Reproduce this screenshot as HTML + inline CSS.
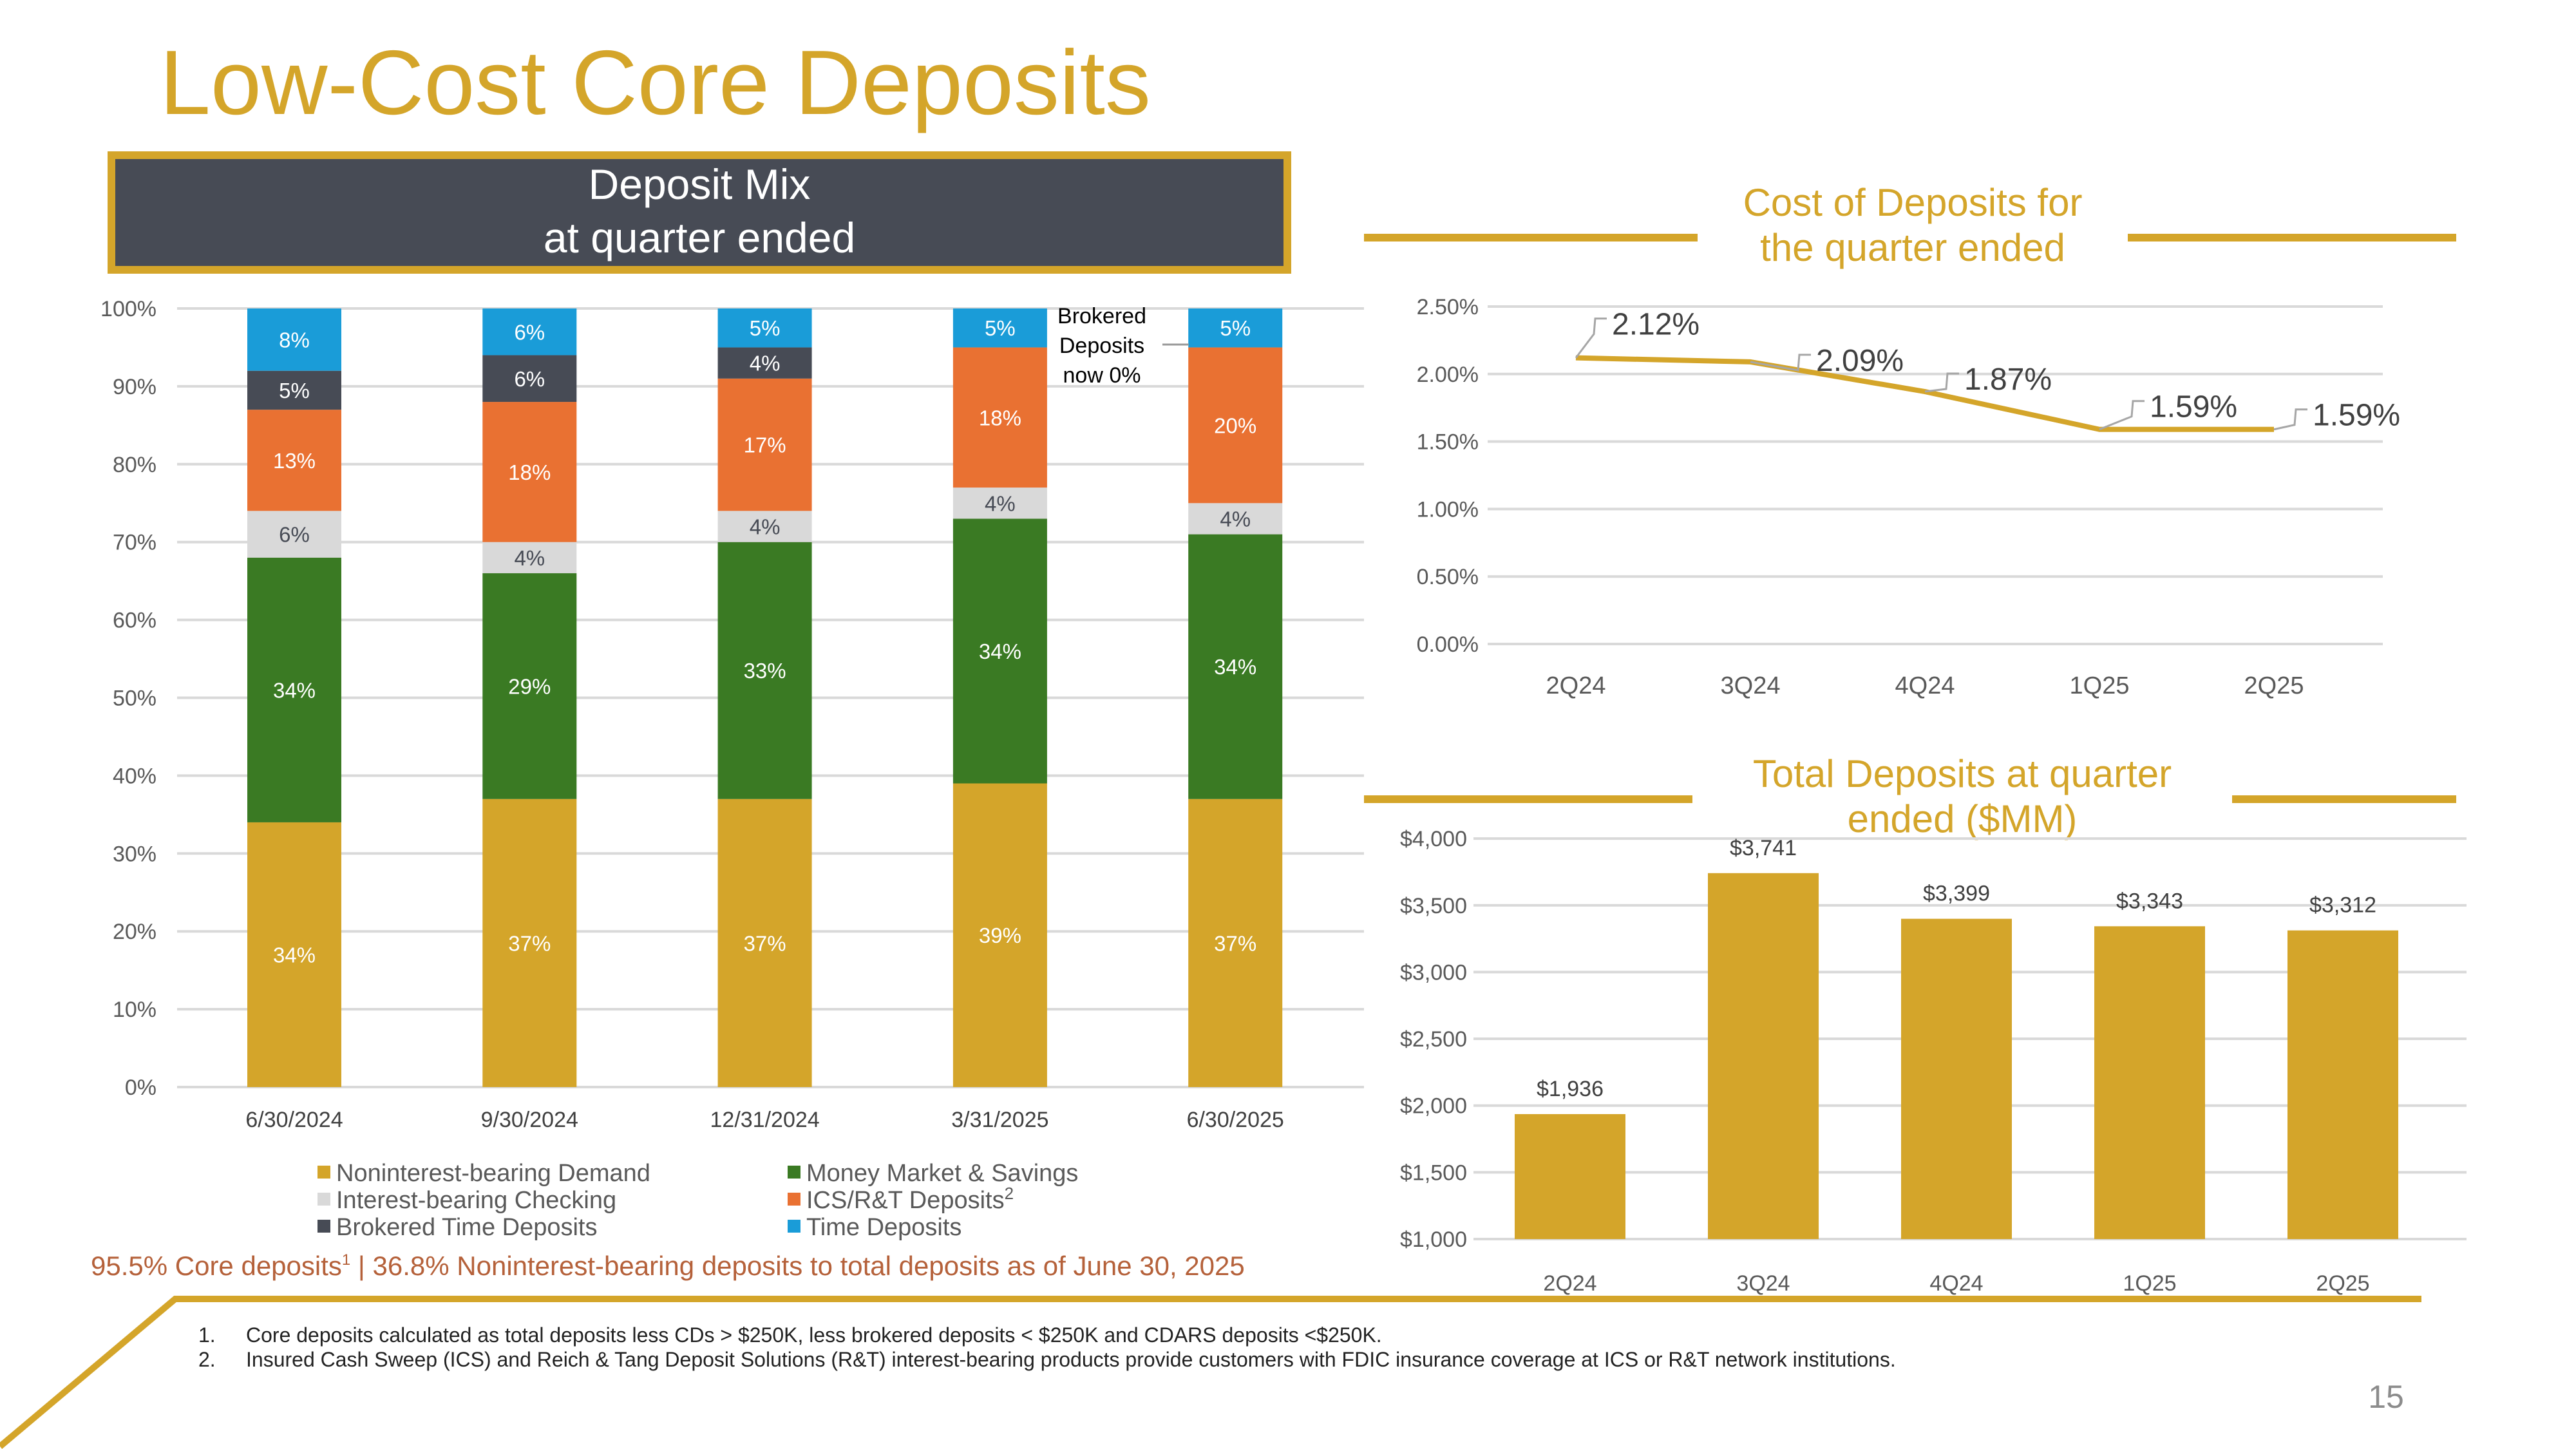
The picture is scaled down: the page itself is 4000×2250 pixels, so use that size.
<!DOCTYPE html>
<html><head><meta charset="utf-8"><style>
html,body{margin:0;padding:0;background:#fff}
svg{display:block}
text{font-family:"Liberation Sans",sans-serif}
</style></head><body>
<svg id="s" width="4000" height="2250" viewBox="0 0 4000 2250" xmlns="http://www.w3.org/2000/svg">
<text x="248" y="177" font-size="142" fill="#D4A52A">Low-Cost Core Deposits</text>
<rect x="173" y="241" width="1826" height="178" fill="#474B55" stroke="#D4A52A" stroke-width="12"/>
<text x="1086" y="309" font-size="66" fill="#fff" text-anchor="middle">Deposit Mix</text>
<text x="1086" y="392" font-size="66" fill="#fff" text-anchor="middle">at quarter ended</text>
<g id="mix"></g>
<text x="1711" y="502" font-size="34" fill="#000" text-anchor="middle">Brokered</text>
<text x="1711" y="548" font-size="34" fill="#000" text-anchor="middle">Deposits</text>
<text x="1711" y="594" font-size="34" fill="#000" text-anchor="middle">now 0%</text>
<line x1="1805" y1="535" x2="1846" y2="535" stroke="#999" stroke-width="3"/>
<g id="legend" font-size="38" fill="#595959"></g>
<text x="141" y="1980" font-size="42" fill="#B5613A">95.5% Core deposits<tspan font-size="24" dy="-16">1</tspan><tspan dy="16"> | 36.8% Noninterest-bearing deposits to total deposits as of June 30, 2025</tspan></text>
<polyline points="0,2246 272,2017 3760,2017" fill="none" stroke="#D4A52A" stroke-width="10"/>
<text x="308" y="2084" font-size="32" fill="#222">1.</text>
<text x="382" y="2084" font-size="32" fill="#222">Core deposits calculated as total deposits less CDs &gt; $250K, less brokered deposits &lt; $250K and CDARS deposits &lt;$250K.</text>
<text x="308" y="2122" font-size="32" fill="#222">2.</text>
<text x="382" y="2122" font-size="32" fill="#222">Insured Cash Sweep (ICS) and Reich &amp; Tang Deposit Solutions (R&amp;T) interest-bearing products provide customers with FDIC insurance coverage at ICS or R&amp;T network institutions.</text>
<text x="3705" y="2186" font-size="50" fill="#8C8C8C" text-anchor="middle">15</text>

<line x1="2118" y1="369" x2="2636" y2="369" stroke="#D4A52A" stroke-width="12"/>
<line x1="3304" y1="369" x2="3814" y2="369" stroke="#D4A52A" stroke-width="12"/>
<text x="2970" y="335" font-size="60" fill="#D4A52A" text-anchor="middle">Cost of Deposits for</text>
<text x="2970" y="405" font-size="60" fill="#D4A52A" text-anchor="middle">the quarter ended</text>
<g id="cost"></g>

<line x1="2118" y1="1241" x2="2628" y2="1241" stroke="#D4A52A" stroke-width="12"/>
<line x1="3466" y1="1241" x2="3814" y2="1241" stroke="#D4A52A" stroke-width="12"/>
<text x="3047" y="1222" font-size="60" fill="#D4A52A" text-anchor="middle">Total Deposits at quarter</text>
<text x="3047" y="1292" font-size="60" fill="#D4A52A" text-anchor="middle">ended ($MM)</text>
<g id="tot"></g>
</svg>
<script>
// ---- Deposit mix data ----
const mixCategories = ["6/30/2024","9/30/2024","12/31/2024","3/31/2025","6/30/2025"];
const mixSeriesNames = ["Noninterest-bearing Demand","Money Market & Savings","Interest-bearing Checking","ICS/R&T Deposits","Brokered Time Deposits","Time Deposits"];
const nibDemand = [34,37,37,39,37];
const moneyMarket = [34,29,33,34,34];
const ibChecking = [6,4,4,4,4];
const icsRT = [13,18,17,18,20];
const brokered = [5,6,4,0,0];
const timeDep = [8,6,5,5,5];
const mixTicks = [0,10,20,30,40,50,60,70,80,90,100];
// ---- Cost of deposits ----
const costCategories = ["2Q24","3Q24","4Q24","1Q25","2Q25"];
const costValues = [2.12,2.09,1.87,1.59,1.59];
const costTicks = [0,0.5,1.0,1.5,2.0,2.5];
// ---- Total deposits ----
const totCategories = ["2Q24","3Q24","4Q24","1Q25","2Q25"];
const totValues = [1936,3741,3399,3343,3312];
const totTicks = [1000,1500,2000,2500,3000,3500,4000];

const NS="http://www.w3.org/2000/svg";
function mk(tag,attrs,parent,txt){const e=document.createElementNS(NS,tag);for(const k in attrs)e.setAttribute(k,attrs[k]);if(txt!==undefined)e.textContent=txt;parent.appendChild(e);return e;}

// Mix chart
const mix=document.getElementById('mix');
const my=v=>1688-v*12.09;
const mx=i=>457+i*365.3;
mixTicks.forEach(t=>{
  const l=mk('line',{x1:275,x2:2118,y1:my(t),y2:my(t),stroke:'#D9D9D9','stroke-width':4},mix);
  
  
  const tx=mk('text',{x:243,y:my(t)+12,'font-size':34,fill:'#595959','text-anchor':'end'},mix,t+'%');
  
  
});
const series=[nibDemand,moneyMarket,ibChecking,icsRT,brokered,timeDep];
const colors=['#D4A52A','#3A7A23','#D9D9D9','#E97132','#474B55','#1A9CD8'];
const lblColors=['#fff','#fff','#474B55','#fff','#fff','#fff'];
mixCategories.forEach((c,i)=>{
  let base=0;
  series.forEach((s,k)=>{
    const v=s[i]; if(v<=0) return;
    const r=mk('rect',{x:mx(i)-73,width:146,y:my(base+v),height:v*12.09,fill:colors[k]},mix);
    
    
    const t=mk('text',{x:mx(i),y:my(base+v/2)+12,'font-size':33,fill:lblColors[k],'text-anchor':'middle'},mix,v+'%');
    
    
    base+=v;
  });
  const xl=mk('text',{x:mx(i),y:1750,'font-size':34,fill:'#404040','text-anchor':'middle'},mix,c);
  
  
});
// legend
const lg=document.getElementById('legend');
const lpos=[[493,1834],[1223,1834],[493,1876],[1223,1876],[493,1918],[1223,1918]];
[0,1,2,3,4,5].forEach((k,j)=>{
  const [x,y]=lpos[j];
  const r=mk('rect',{x:x,y:y-24,width:20,height:20,fill:colors[k]},lg);
  
  
  const t=mk('text',{x:x+29,y:y},lg,mixSeriesNames[k]);
  
  
  if(k===3){mk('tspan',{'font-size':26,dy:-14},t,'2');}
});

// Cost chart
const cost=document.getElementById('cost');
const cy=v=>1000-v*209.6;
const cx=i=>2447+i*271;
costTicks.forEach(t=>{
  const l=mk('line',{x1:2310,x2:3700,y1:cy(t),y2:cy(t),stroke:'#D9D9D9','stroke-width':4},cost);
  
  
  const tx=mk('text',{x:2296,y:cy(t)+12,'font-size':34,fill:'#595959','text-anchor':'end'},cost,t.toFixed(2)+'%');
  
  
});
const pl=mk('polyline',{points:costValues.map((v,i)=>cx(i)+','+cy(v)).join(' '),fill:'none',stroke:'#D4A52A','stroke-width':8,'stroke-linejoin':'round'},cost);


const cOff=[[66,-53],[112,-3],[71,-20],[88,-36],[70,-23]];
costCategories.forEach((c,i)=>{
  const px=cx(i),py=cy(costValues[i]);
  const [ox,oy]=cOff[i];
  const ld=mk('polyline',{points:`${px},${py} ${px+ox-38},${py+oy+16} ${px+ox-36},${py+oy-8} ${px+ox-18},${py+oy-8}`,fill:'none',stroke:'#A6A6A6','stroke-width':3},cost);
  
  
  const t=mk('text',{x:px+ox-10,y:py+oy+17,'font-size':48,fill:'#404040'},cost,costValues[i].toFixed(2)+'%');
  
  
  const xl=mk('text',{x:px,y:1077,'font-size':38,fill:'#595959','text-anchor':'middle'},cost,c);
  
  
});

// Total deposits chart
const tot=document.getElementById('tot');
const ty=v=>1924-(v-1000)*0.2073;
const tx_=i=>2438+i*300;
totTicks.forEach(t=>{
  const l=mk('line',{x1:2288,x2:3830,y1:ty(t),y2:ty(t),stroke:'#D9D9D9','stroke-width':4},tot);
  
  
  const tx=mk('text',{x:2278,y:ty(t)+12,'font-size':34,fill:'#595959','text-anchor':'end'},tot,'$'+t.toLocaleString('en-US'));
  
  
});
totCategories.forEach((c,i)=>{
  const r=mk('rect',{x:tx_(i)-86,width:172,y:ty(totValues[i]),height:1924-ty(totValues[i]),fill:'#D4A52A'},tot);
  
  
  const t=mk('text',{x:tx_(i),y:ty(totValues[i])-28,'font-size':34,fill:'#404040','text-anchor':'middle'},tot,'$'+totValues[i].toLocaleString('en-US'));
  
  
  const xl=mk('text',{x:tx_(i),y:2004,'font-size':34,fill:'#595959','text-anchor':'middle'},tot,c);
  
  
});
</script>
</body></html>
